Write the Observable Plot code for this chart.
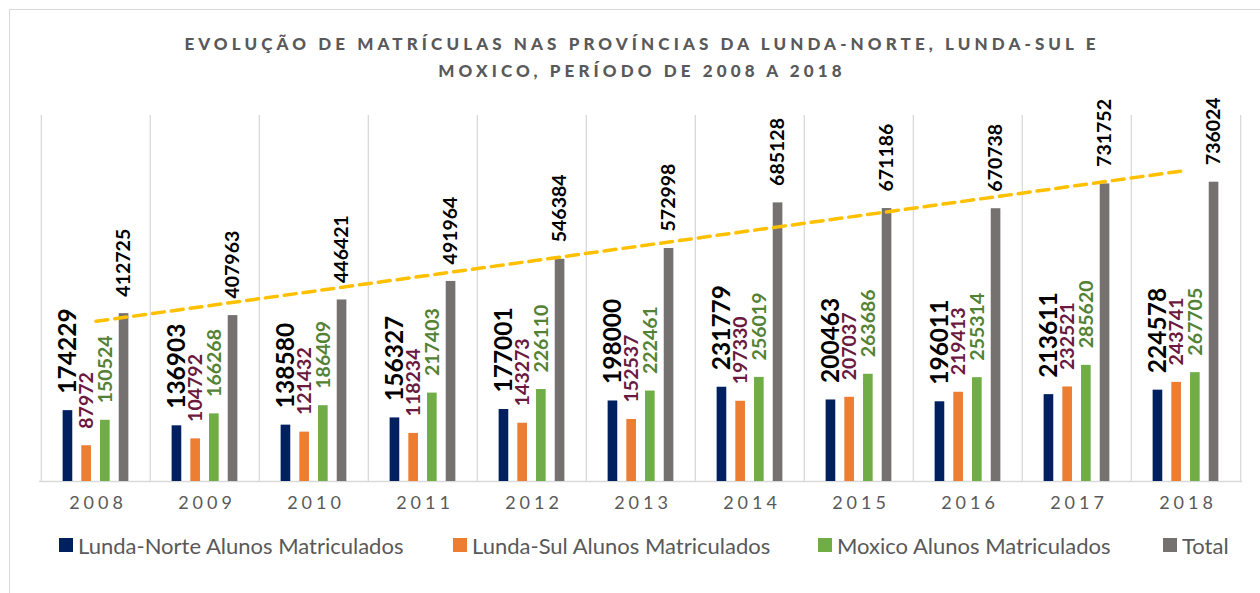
<!DOCTYPE html>
<html>
<head>
<meta charset="utf-8">
<script src="https://cdn.jsdelivr.net/npm/d3@7"></script>
<script src="https://cdn.jsdelivr.net/npm/@observablehq/plot@0.6"></script>
<style>
  html, body { margin: 0; padding: 0; background: #fff; }
  body { width: 1260px; height: 593px; position: relative; overflow: hidden; font-family: Lato, "Open Sans", sans-serif; }
  #frame { position: absolute; left: 9px; top: 9px; width: 1270px; height: 620px; border: 1px solid #d9d9d9; box-sizing: border-box; }
  #title { position: absolute; top: 30px; left: 0; width: 1284px; text-align: center; color: #595959; font-weight: 900; font-size: 17px; letter-spacing: 4.1px; line-height: 27px; }
  #chart { position: absolute; top: 100px; left: 0; }
  #legend { position: absolute; top: 530px; left: 0; width: 1260px; height: 30px; }
  .item { position: absolute; top: 0; display: flex; align-items: center; height: 30px; color: #595959; font-size: 22px; white-space: nowrap; }
  .sw { width: 14px; height: 14px; margin-right: 5px; }
  g[fill="#595959"] text { letter-spacing: 4px; }
</style>
</head>
<body>
<div id="frame"></div>
<div id="title">EVOLUÇÃO DE MATRÍCULAS NAS PROVÍNCIAS DA LUNDA-NORTE, LUNDA-SUL E<br>MOXICO, PERÍODO DE 2008 A 2018</div>
<div id="chart"></div>
<div id="legend"></div>
<script>
const years = [2008, 2009, 2010, 2011, 2012, 2013, 2014, 2015, 2016, 2017, 2018];
const lundaNorte = [174229, 136903, 138580, 156327, 177001, 198000, 231779, 200463, 196011, 213611, 224578];
const lundaSul = [87972, 104792, 121432, 118234, 143273, 152537, 197330, 207037, 219413, 232521, 243741];
const moxico = [150524, 166268, 186409, 217403, 226110, 222461, 256019, 263686, 255314, 285620, 267705];
const total = [412725, 407963, 446421, 491964, 546384, 572998, 685128, 671186, 670738, 731752, 736024];
const seriesNames = ["Lunda-Norte Alunos Matriculados", "Lunda-Sul Alunos Matriculados", "Moxico Alunos Matriculados", "Total"];
const barColors = ["#002060", "#ED7D31", "#70AD47", "#767171"];
const labelColors = ["#000000", "#6B1A3F", "#548235", "#000000"];
const labelSizes = [24.5, 19.5, 19.5, 19.5];

const seriesValues = [lundaNorte, lundaSul, moxico, total];

// linear trend of Total (least squares)
const mx = d3.mean(total, (d, i) => i);
const my = d3.mean(total);
const slope = d3.sum(total, (d, i) => (i - mx) * (d - my)) / d3.sum(total, (d, i) => (i - mx) ** 2);
const intercept = my - slope * mx;
const trend = years.map((y, i) => ({year: y, value: intercept + slope * i}));

const W = 1260, ml = 39, mr = 18;
const bw = (W - ml - mr) / years.length;
const step = 18.7, barW = 10;

const marks = [];
// vertical gridlines at band boundaries
marks.push(Plot.ruleX(years, {x: d => d, dx: -bw / 2, y1: 0, y2: 900000, stroke: "#d9d9d9", strokeWidth: 1.3}));
marks.push(Plot.ruleX(years.slice(-1), {x: d => d, dx: bw / 2, y1: 0, y2: 900000, stroke: "#d9d9d9", strokeWidth: 1.3}));
marks.push(Plot.ruleY([0], {stroke: "#d9d9d9", strokeWidth: 1.6}));

seriesValues.forEach((vals, k) => {
  const rows = years.map((y, i) => ({year: y, value: vals[i]}));
  const off = (k - 1.5) * step;
  const insetLeft = bw / 2 + off - barW / 2;
  marks.push(Plot.barY(rows, {x: "year", y: "value", fill: barColors[k], insetLeft, insetRight: bw - insetLeft - barW}));
});
seriesValues.forEach((vals, k) => {
  const rows = years.map((y, i) => ({year: y, value: vals[i]}));
  const off = (k - 1.5) * step;
  marks.push(Plot.text(rows, {x: "year", y: "value", text: d => String(d.value), rotate: -90, textAnchor: "start", dx: off, dy: -17, fill: labelColors[k], fontWeight: "bold", fontSize: labelSizes[k], fontFamily: "Lato"}));
});
marks.push(Plot.line(trend, {x: "year", y: "value", stroke: "#FFC000", strokeWidth: 3.5, strokeDasharray: "12,7"}));
// year tick labels
marks.push(Plot.text(years, {x: d => d, frameAnchor: "bottom", dy: 27, dx: 2, text: d => String(d), fill: "#595959", fontSize: 18, fontFamily: "Lato"}));

const chart = Plot.plot({
  width: W, height: 426,
  marginLeft: ml, marginRight: mr, marginTop: 15, marginBottom: 45,
  x: {type: "band", domain: years, paddingInner: 0, paddingOuter: 0, axis: null},
  y: {domain: [0, 900000], axis: null},
  style: {background: "transparent", overflow: "visible"},
  marks
});
document.getElementById("chart").appendChild(chart);

const legendLefts = [59, 453, 818, 1163];
const legend = document.getElementById("legend");
seriesNames.forEach((name, k) => {
  const it = document.createElement("div");
  it.className = "item";
  it.style.left = legendLefts[k] + "px";
  it.innerHTML = `<span class="sw" style="background:${barColors[k]}"></span><span>${name}</span>`;
  legend.appendChild(it);
});
</script>
</body>
</html>
